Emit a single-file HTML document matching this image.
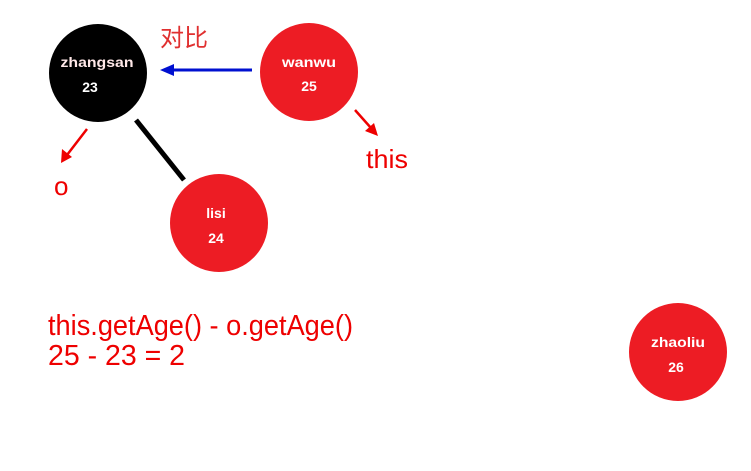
<!DOCTYPE html>
<html><head><meta charset="utf-8"><style>
html,body{margin:0;padding:0;background:#fff;width:751px;height:471px;overflow:hidden}
</style></head><body>
<svg width="751" height="471" viewBox="0 0 751 471" xmlns="http://www.w3.org/2000/svg">
<rect width="751" height="471" fill="#fff"/>
<circle cx="98" cy="73" r="49" fill="#000"/>
<circle cx="309" cy="72" r="49" fill="#ed1c24"/>
<circle cx="219" cy="223" r="49" fill="#ed1c24"/>
<circle cx="678" cy="352" r="49" fill="#ed1c24"/>
<g font-family="Liberation Sans, sans-serif" font-weight="bold" font-size="14" fill="#fff" text-anchor="middle">
<text x="97" y="67" fill="#ffe8e8" textLength="73" lengthAdjust="spacingAndGlyphs">zhangsan</text><text x="90" y="92">23</text>
<text x="309" y="67" textLength="54" lengthAdjust="spacingAndGlyphs">wanwu</text><text x="309" y="91">25</text>
<text x="216" y="218">lisi</text><text x="216" y="243">24</text>
<text x="678" y="347" textLength="54" lengthAdjust="spacingAndGlyphs">zhaoliu</text><text x="676" y="372">26</text>
</g>
<line x1="136" y1="120" x2="184" y2="180" stroke="#000" stroke-width="5"/>
<line x1="252" y1="70" x2="172" y2="70" stroke="#0010d0" stroke-width="3"/>
<polygon points="160,70 174,64 174,76" fill="#0010d0"/>
<line x1="87" y1="129" x2="67" y2="155" stroke="#e00" stroke-width="2.5"/>
<polygon points="61,163 62,149 72,157" fill="#e00"/>
<line x1="355" y1="110" x2="371" y2="128" stroke="#e00" stroke-width="2.5"/>
<polygon points="378,136 365,131 374,123" fill="#e00"/>
<g font-family="Liberation Sans, 'Noto Sans CJK SC', sans-serif" fill="#e00">
<text x="160" y="46" font-size="24" fill="#e03030">对比</text>
<text x="366" y="168" font-size="26" textLength="42" lengthAdjust="spacingAndGlyphs">this</text>
<text x="54" y="195" font-size="26">o</text>
<text x="48" y="335" font-size="29" textLength="305" lengthAdjust="spacingAndGlyphs">this.getAge() - o.getAge()</text>
<text x="48" y="365" font-size="29" textLength="137" lengthAdjust="spacingAndGlyphs">25 - 23 = 2</text>
</g>
</svg>
</body></html>
